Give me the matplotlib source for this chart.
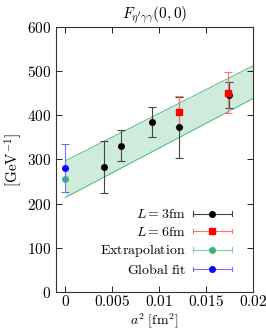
import numpy as np
import matplotlib
matplotlib.use('Agg')
import matplotlib.pyplot as plt
from matplotlib.lines import Line2D
from matplotlib.legend_handler import HandlerBase

plt.rcParams['mathtext.fontset'] = 'cm'
plt.rcParams['font.family'] = 'DejaVu Serif'

# L = 3fm ensembles
a2_3fm = [0.00408, 0.00592, 0.00926, 0.01216, 0.01748]
F_3fm = [283, 331, 384, 373, 446]
err_3fm = [58, 35, 34, 69, 29]

# L = 6fm ensembles
a2_6fm = [0.01216, 0.0173]
F_6fm = [408, 451]
err_6fm = [35, 46]

# continuum extrapolation and global fit at a^2 = 0
F_extrap = 256
F_global = 280
err_global = 54

# linear band of the extrapolation
band_x = [0.0, 0.02]
band_lo = [214, 438]
band_hi = [297, 512]

green = '#3cb371'


class HorizErrHandler(HandlerBase):
    """legend key drawn as a horizontal error bar with a marker in the middle"""
    def __init__(self, color, ecolor, marker):
        HandlerBase.__init__(self)
        self.color = color
        self.ecolor = ecolor
        self.marker = marker

    def create_artists(self, legend, orig_handle, xdescent, ydescent, width, height, fontsize, trans):
        x0 = -xdescent
        x1 = x0 + width
        y = height / 2.0 - ydescent
        cap = 0.22 * height
        arts = [Line2D([x0, x1], [y, y], color=self.ecolor, lw=0.8),
                Line2D([x0, x0], [y - cap, y + cap], color=self.ecolor, lw=0.8),
                Line2D([x1, x1], [y - cap, y + cap], color=self.ecolor, lw=0.8),
                Line2D([(x0 + x1) / 2.0], [y], marker=self.marker, color=self.color, ms=4, ls='none')]
        for a in arts:
            a.set_transform(trans)
        return arts


fig = plt.figure(figsize=(2.66, 3.33), dpi=100)
ax = fig.add_axes([0.2105, 0.1231, 0.7405, 0.7959])

ax.fill_between(band_x, band_lo, band_hi, color=green, alpha=0.25, lw=0)
ax.plot(band_x, band_lo, color=green, lw=0.6)
ax.plot(band_x, band_hi, color=green, lw=0.6)

ax.errorbar(a2_3fm, F_3fm, yerr=err_3fm, fmt='o', color='black', ms=4,
            ecolor='#444444', elinewidth=0.8, capsize=3, capthick=0.8)
ax.errorbar(a2_6fm, F_6fm, yerr=err_6fm, fmt='s', color='red', ms=4,
            ecolor='#ff7070', elinewidth=0.8, capsize=3, capthick=0.8)
ax.plot([0], [F_extrap], 'o', color=green, ms=4)
ax.errorbar([0], [F_global], yerr=[err_global], fmt='o', color='blue', ms=4,
            ecolor='#7070ff', elinewidth=0.8, capsize=3, capthick=0.8)

ax.set_xlim(-0.001, 0.02)
ax.set_ylim(0, 600)
ax.set_xticks([0, 0.005, 0.01, 0.015, 0.02])
ax.set_xticklabels(['$0$', '$0.005$', '$0.01$', '$0.015$', '$0.02$'])
ax.set_yticks(range(0, 601, 100))
ax.set_yticklabels(['$%d$' % v for v in range(0, 601, 100)])
ax.tick_params(direction='in', top=True, right=True, labelsize=11, length=4, width=0.6)
ax.tick_params(axis='x', pad=1.5)
for s in ax.spines.values():
    s.set_linewidth(0.8)
    s.set_color('#333333')

ax.set_title(r"$F_{\eta'\gamma\gamma}(0,0)$", fontsize=11, pad=6)
ax.set_ylabel(r'$[\mathrm{GeV}^{-1}]$', fontsize=11, labelpad=2)
ax.set_xlabel(r'$a^2\ [\mathrm{fm}^2]$', fontsize=10)
ax.xaxis.set_label_coords(0.5, -0.073)

p3 = Line2D([], [])
p6 = Line2D([], [])
pe = Line2D([], [])
pg = Line2D([], [])
hmap = {p3: HorizErrHandler('black', '#444444', 'o'),
        p6: HorizErrHandler('red', '#ff7070', 's'),
        pe: HorizErrHandler(green, '#80d0a0', 'o'),
        pg: HorizErrHandler('blue', '#7070ff', 'o')}
ax.legend([p3, p6, pe, pg],
          [r'$L=3\mathrm{fm}$', r'$L=6\mathrm{fm}$', r'$\mathrm{Extrapolation}$', r'$\mathrm{Global\ fit}$'],
          handler_map=hmap, loc='lower right', frameon=False, fontsize=10,
          markerfirst=False, handlelength=2.8, handletextpad=0.5, labelspacing=0.25,
          borderpad=0, borderaxespad=0, bbox_to_anchor=(0.893, 0.057))

fig.savefig('out.png', dpi=100)
